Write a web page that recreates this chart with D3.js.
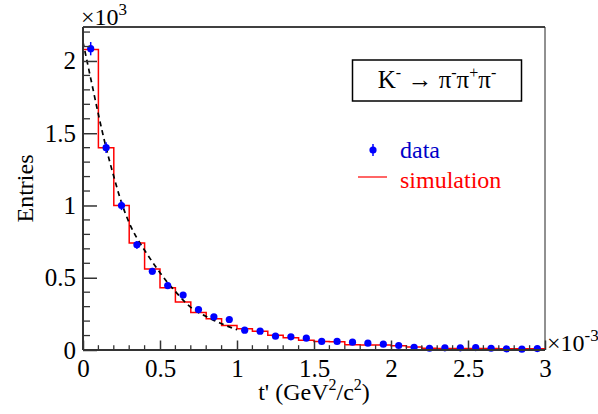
<!DOCTYPE html>
<html>
<head>
<meta charset="utf-8">
<script src="https://cdn.jsdelivr.net/npm/d3@7"></script>
<style>
  html, body { margin: 0; padding: 0; background: #fff; }
  svg { display: block; }
  text { font-family: "Liberation Serif", "Times New Roman", serif; }
</style>
</head>
<body>
<svg id="chart" width="598" height="414"></svg>
<script>
// ---- data (t' in units of 10^-3 GeV^2/c^2, entries in units of 10^3) ----
const tCenters = [0.05,0.15,0.25,0.35,0.45,0.55,0.65,0.75,0.85,0.95,
                  1.05,1.15,1.25,1.35,1.45,1.55,1.65,1.75,1.85,1.95,
                  2.05,2.15,2.25,2.35,2.45,2.55,2.65,2.75,2.85,2.95];
const binEdges = [0.0,0.1,0.2,0.3,0.4,0.5,0.6,0.7,0.8,0.9,1.0,
                  1.1,1.2,1.3,1.4,1.5,1.6,1.7,1.8,1.9,2.0,
                  2.1,2.2,2.3,2.4,2.5,2.6,2.7,2.8,2.9,3.0];
const dataValues = [2.085,1.40,1.00,0.728,0.545,0.446,0.38,0.28,0.23,0.211,
                    0.137,0.13,0.096,0.091,0.082,0.059,0.059,0.054,0.047,0.04,
                    0.031,0.019,0.012,0.015,0.015,0.017,0.012,0.008,0.006,0.01];
const dataErrors = [0.046,0.037,0.032,0.027,0.023,0.021,0.019,0.017,0.015,0.015,
                    0.012,0.011,0.010,0.010,0.009,0.008,0.008,0.007,0.007,0.006,
                    0.006,0.004,0.003,0.004,0.004,0.004,0.003,0.003,0.002,0.003];
const simValues = [2.08,1.40,1.00,0.74,0.56,0.43,0.333,0.26,0.216,0.17,
                   0.147,0.13,0.102,0.084,0.068,0.059,0.057,0.036,0.034,0.034,
                   0.03,0.02,0.012,0.01,0.01,0.01,0.01,0.008,0.008,0.008];
const fitT      = [0.0,0.05,0.1,0.15,0.2,0.25,0.3,0.35,0.4,0.45,0.5,
                   0.55,0.6,0.65,0.7,0.75,0.8,0.85,0.9,0.95,1.0];
const fitValues = [2.13,1.88,1.63,1.40,1.20,1.02,0.88,0.775,0.69,0.61,0.535,
                   0.465,0.405,0.345,0.295,0.26,0.232,0.205,0.182,0.16,0.14];
const xTicks = [0,0.5,1,1.5,2,2.5,3];
const yTicks = [0,0.5,1,1.5,2];
const xMinorTicks = binEdges;
const yMinorTicks = [0.1,0.2,0.3,0.4,0.6,0.7,0.8,0.9,1.1,1.2,1.3,1.4,1.6,1.7,1.8,1.9,2.1,2.2];

// ---- layout ----
const svg = d3.select("#chart");
const L = 83, R = 545, T = 27, B = 350;
const x = d3.scaleLinear().domain([0, 3]).range([L, R]);
const y = d3.scaleLinear().domain([0, 2.235]).range([B, T]);
const FS = 25;   // tick labels
const FT = 24;   // titles / legend

// frame (top & right)
svg.append("line").attr("x1", L).attr("x2", R).attr("y1", T).attr("y2", T)
  .attr("stroke", "#000").attr("stroke-width", 1.3);
svg.append("line").attr("x1", R).attr("x2", R).attr("y1", T).attr("y2", B)
  .attr("stroke", "#222").attr("stroke-width", 1);

// simulation histogram (red step line)
const simPts = [[binEdges[0], 0]];
simValues.forEach((v, i) => { simPts.push([binEdges[i], v]); simPts.push([binEdges[i + 1], v]); });
svg.append("path")
  .attr("d", d3.line().x(d => x(d[0])).y(d => y(d[1]))(simPts))
  .attr("fill", "none").attr("stroke", "#ff0000").attr("stroke-width", 1.5);

// fit curve (black dashed)
svg.append("path")
  .attr("d", d3.line().curve(d3.curveMonotoneX).x((d, i) => x(fitT[i])).y(d => y(d))(fitValues))
  .attr("fill", "none").attr("stroke", "#000").attr("stroke-width", 1.7)
  .attr("stroke-dasharray", "5,4");

// data points
const pts = svg.append("g");
tCenters.forEach((t, i) => {
  pts.append("line").attr("x1", x(t)).attr("x2", x(t))
    .attr("y1", y(dataValues[i] - dataErrors[i])).attr("y2", y(dataValues[i] + dataErrors[i]))
    .attr("stroke", "#0000ff").attr("stroke-width", 1.5);
  pts.append("circle").attr("cx", x(t)).attr("cy", y(dataValues[i])).attr("r", 3.6)
    .attr("fill", "#0000ff");
});

// axes
const axisColor = "#333";
const xAxis = svg.append("g").attr("transform", `translate(0,${B})`)
  .call(d3.axisBottom(x).tickValues(xTicks).tickSize(-9.5).tickPadding(9)
    .tickFormat(d => String(d)));
xAxis.attr("font-family", null).attr("font-size", null);
xAxis.selectAll(".tick text").attr("font-size", FS).attr("fill", "#000");
xAxis.selectAll(".tick line").attr("stroke", axisColor).attr("stroke-width", 1.5);
xAxis.select(".domain").attr("stroke", axisColor).attr("stroke-width", 2).attr("d", `M${L},0H${R}`);
xAxis.selectAll(".minor").data(xMinorTicks.filter(v => !xTicks.includes(v))).enter()
  .append("line").attr("x1", d => x(d)).attr("x2", d => x(d)).attr("y1", 0).attr("y2", -4.8)
  .attr("stroke", axisColor).attr("stroke-width", 1.3);

const yAxis = svg.append("g").attr("transform", `translate(${L},0)`)
  .call(d3.axisLeft(y).tickValues(yTicks).tickSize(-14).tickPadding(7)
    .tickFormat(d => String(d)));
yAxis.attr("font-family", null).attr("font-size", null);
yAxis.selectAll(".tick text").attr("font-size", FS).attr("fill", "#000");
yAxis.selectAll(".tick line").attr("stroke", axisColor).attr("stroke-width", 1.5);
yAxis.select(".domain").attr("stroke", axisColor).attr("stroke-width", 2).attr("d", `M0,${B}V${T}`);
yAxis.selectAll(".minor").data(yMinorTicks).enter()
  .append("line").attr("x1", 0).attr("x2", 7).attr("y1", d => y(d)).attr("y2", d => y(d))
  .attr("stroke", axisColor).attr("stroke-width", 1.3);

// exponent labels
const e1 = svg.append("text").attr("x", 81).attr("y", 25).attr("font-size", FT);
e1.append("tspan").text("×10");
e1.append("tspan").attr("dy", -10).attr("font-size", 17).text("3");
const e2 = svg.append("text").attr("x", 547).attr("y", 351).attr("font-size", FT);
e2.append("tspan").text("×10");
e2.append("tspan").attr("dy", -10).attr("font-size", 17).text("-3");

// axis titles
const xt = svg.append("text").attr("x", (L + R) / 2).attr("y", 400).attr("text-anchor", "middle").attr("font-size", FT);
xt.append("tspan").text("t' (GeV");
xt.append("tspan").attr("dy", -10).attr("font-size", 16).text("2");
xt.append("tspan").attr("dy", 10).text("/c");
xt.append("tspan").attr("dy", -10).attr("font-size", 16).text("2");
xt.append("tspan").attr("dy", 10).text(")");

svg.append("text").attr("transform", `translate(33,${(T + B) / 2}) rotate(-90)`)
  .attr("text-anchor", "middle").attr("font-size", FT).text("Entries");

// label box
svg.append("rect").attr("x", 352.5).attr("y", 60).attr("width", 169).attr("height", 41)
  .attr("fill", "#fff").attr("stroke", "#000").attr("stroke-width", 1.5);
const kt = svg.append("text").attr("x", 437).attr("y", 88).attr("text-anchor", "middle").attr("font-size", 25);
kt.append("tspan").text("K");
kt.append("tspan").attr("dy", -10).attr("font-size", 16).text("-");
kt.append("tspan").attr("dy", 10).text(" → π");
kt.append("tspan").attr("dy", -10).attr("font-size", 16).text("-");
kt.append("tspan").attr("dy", 10).text("π");
kt.append("tspan").attr("dy", -10).attr("font-size", 16).text("+");
kt.append("tspan").attr("dy", 10).text("π");
kt.append("tspan").attr("dy", -10).attr("font-size", 16).text("-");

// legend
svg.append("line").attr("x1", 373).attr("x2", 373).attr("y1", 144).attr("y2", 156)
  .attr("stroke", "#0000ff").attr("stroke-width", 1.5);
svg.append("circle").attr("cx", 373).attr("cy", 150).attr("r", 3.6).attr("fill", "#0000ff");
svg.append("text").attr("x", 400).attr("y", 158).attr("font-size", FT).attr("fill", "#0000c8").text("data");
svg.append("line").attr("x1", 358).attr("x2", 387).attr("y1", 177).attr("y2", 177)
  .attr("stroke", "#ff0000").attr("stroke-width", 1.2);
svg.append("text").attr("x", 400).attr("y", 188).attr("font-size", FT).attr("fill", "#ff0000").text("simulation");
</script>
</body>
</html>
